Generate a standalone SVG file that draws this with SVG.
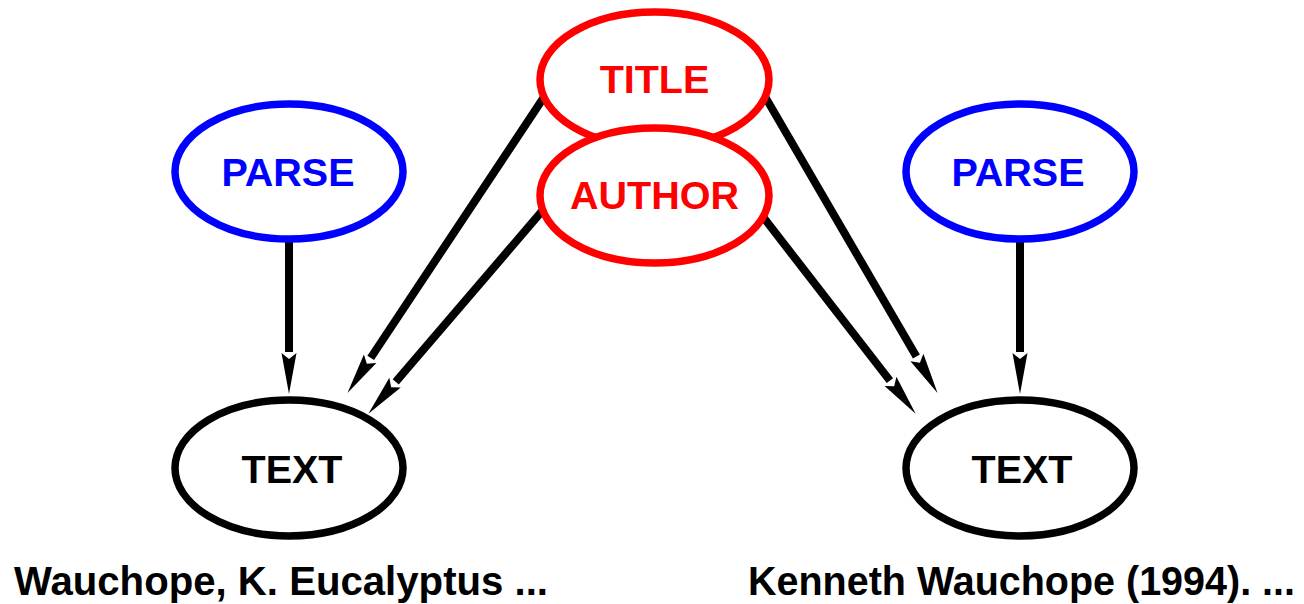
<svg xmlns="http://www.w3.org/2000/svg" width="1304" height="604" viewBox="0 0 1304 604">
  <style>
    .node { fill: #ffffff; stroke-width: 7.5; }
    .blue { stroke: #0000ff; }
    .red { stroke: #ff0000; }
    .black { stroke: #000000; }
    .lbl { font-family: "Liberation Sans", Arial, sans-serif; font-weight: bold; font-size: 39.5px; text-anchor: middle; }
    .cap { font-family: "Liberation Sans", Arial, sans-serif; font-weight: bold; font-size: 40px; fill: #000000; }
    .edge { stroke: #000000; stroke-width: 8; fill: none; marker-end: url(#head); }
  </style>
  <defs>
    <marker id="head" markerUnits="userSpaceOnUse" orient="auto" refX="-1" refY="0" markerWidth="44" markerHeight="18" viewBox="-1 -8 44 16" overflow="visible">
      <path d="M0,-7.5 L41,0 L0,7.5 L6,0 Z" fill="#000000"/>
    </marker>
  </defs>

  <!-- connectors sit underneath the white-filled ellipses -->
  <g id="connectors">
    <line class="edge" x1="289" y1="236" x2="289" y2="352"/>
    <line class="edge" x1="1020" y1="236" x2="1020" y2="352"/>
    <line class="edge" x1="545.5" y1="94.7" x2="370.7" y2="357.9"/>
    <line class="edge" x1="549.5" y1="202.4" x2="395.7" y2="381.9"/>
    <line class="edge" x1="762" y1="91.4" x2="916.4" y2="356.6"/>
    <line class="edge" x1="757" y1="209.1" x2="889.9" y2="380.6"/>
  </g>

  <g id="title">
    <ellipse class="node red" cx="654.5" cy="79.5" rx="114.5" ry="67.5"/>
    <text class="lbl" x="654.5" y="93" fill="#ff0000">TITLE</text>
  </g>
  <g id="author">
    <ellipse class="node red" cx="654.5" cy="195.5" rx="114.5" ry="67.5"/>
    <text class="lbl" x="654.5" y="209" fill="#ff0000">AUTHOR</text>
  </g>

  <g id="parse-left">
    <ellipse class="node blue" cx="289" cy="171.5" rx="114" ry="67.5"/>
    <text class="lbl" x="288" y="185.5" fill="#0000ff">PARSE</text>
  </g>
  <g id="text-left">
    <ellipse class="node black" cx="289" cy="468" rx="114" ry="68"/>
    <text class="lbl" x="292" y="482.5" fill="#000000">TEXT</text>
  </g>

  <g id="parse-right">
    <ellipse class="node blue" cx="1020" cy="171.5" rx="114" ry="67.5"/>
    <text class="lbl" x="1018" y="185.5" fill="#0000ff">PARSE</text>
  </g>
  <g id="text-right">
    <ellipse class="node black" cx="1020" cy="468" rx="114" ry="68"/>
    <text class="lbl" x="1022" y="482.5" fill="#000000">TEXT</text>
  </g>

  <g id="captions">
    <text class="cap" x="14" y="595" textLength="534" lengthAdjust="spacingAndGlyphs">Wauchope, K. Eucalyptus ...</text>
    <text class="cap" x="748" y="595" textLength="547" lengthAdjust="spacingAndGlyphs">Kenneth Wauchope (1994). ...</text>
  </g>
</svg>
